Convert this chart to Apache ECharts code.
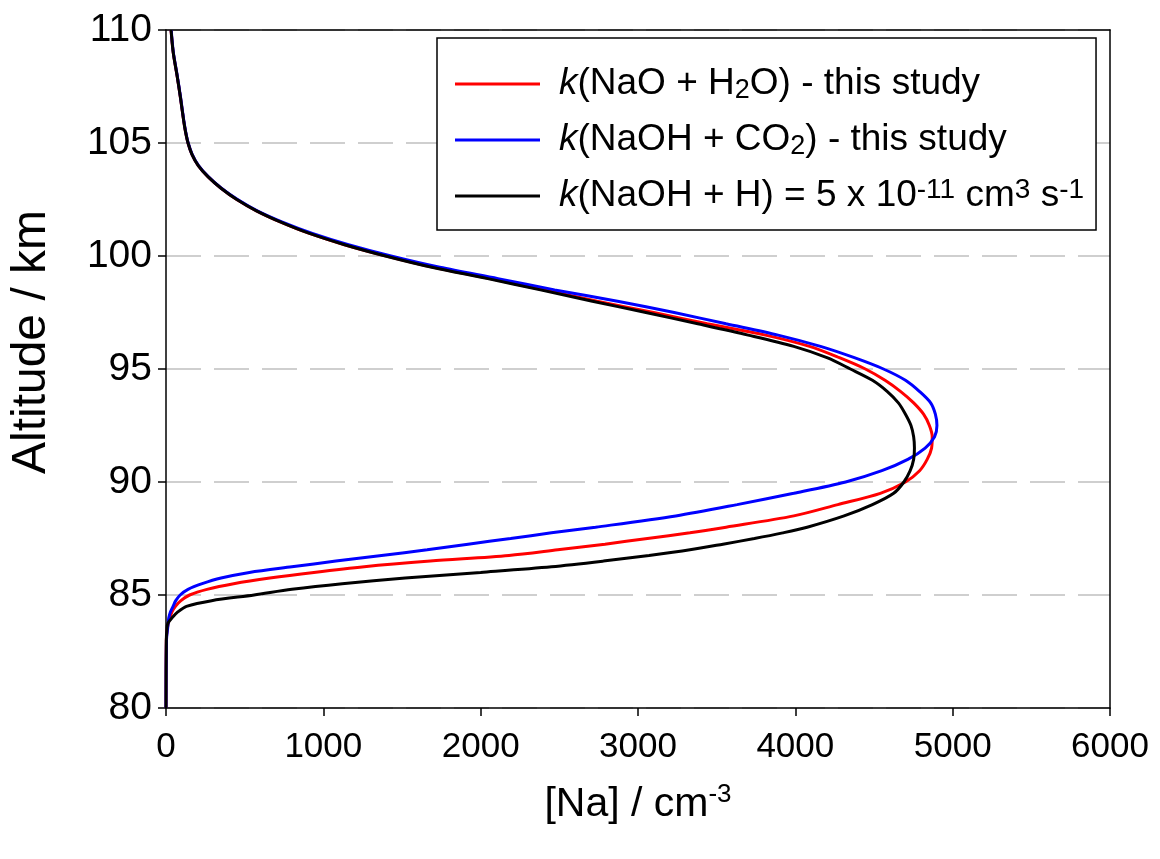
<!DOCTYPE html>
<html>
<head>
<meta charset="utf-8">
<script src="https://cdn.jsdelivr.net/npm/echarts@6/dist/echarts.min.js"></script>
<style>
html,body{margin:0;padding:0;background:#fff;}
#chart{width:1160px;height:859px;}
</style>
</head>
<body>
<div id="chart"></div>
<script>
// Altitude grid (km) shared by all series
const altitudes = [80, 83, 83.5, 83.75, 84, 84.25, 84.5, 84.75, 85, 85.25, 85.5, 85.75, 86, 86.25, 86.5, 86.75, 87, 87.25, 87.5, 87.75, 88, 88.5, 89, 89.5, 90, 90.5, 91, 91.5, 92, 92.5, 93, 93.5, 94, 94.5, 95, 95.5, 96, 96.5, 97, 97.5, 98, 98.5, 99, 99.5, 100, 100.5, 101, 101.5, 102, 102.5, 103, 103.5, 104, 104.5, 105, 105.5, 106, 107, 108, 109, 110];

// [Na] / cm^-3 at each altitude
const naH2O = [0, 2, 8, 15, 25, 38, 60, 95, 150, 260, 430, 660, 940, 1260, 1680, 2180, 2490, 2790, 3060, 3330, 3560, 3990, 4270, 4540, 4700, 4790, 4838, 4866, 4870, 4852, 4815, 4752, 4670, 4570, 4445, 4280, 4090, 3810, 3440, 3100, 2740, 2400, 2060, 1700, 1400, 1135, 912, 730, 575, 450, 350, 268, 205, 165, 140, 124, 112, 92, 70, 46, 32];
const naCO2 = [0, 3, 10, 14, 18, 28, 45, 62, 90, 140, 230, 350, 530, 800, 1080, 1370, 1660, 1920, 2190, 2450, 2730, 3240, 3630, 3990, 4320, 4550, 4715, 4825, 4885, 4900, 4890, 4860, 4790, 4700, 4560, 4375, 4160, 3890, 3560, 3230, 2870, 2470, 2110, 1740, 1430, 1160, 930, 740, 580, 455, 352, 270, 207, 166, 141, 125, 113, 93, 71, 47, 33];
const naH = [0, 2, 6, 12, 40, 75, 130, 290, 560, 800, 1120, 1520, 2000, 2450, 2780, 3070, 3330, 3540, 3740, 3920, 4075, 4310, 4490, 4625, 4690, 4730, 4752, 4757, 4752, 4735, 4700, 4655, 4585, 4490, 4350, 4201, 3990, 3700, 3380, 3050, 2710, 2380, 2045, 1690, 1395, 1135, 912, 730, 575, 450, 350, 268, 205, 165, 140, 124, 112, 92, 70, 46, 32];

const seriesNames = ['k(NaO + H2O) - this study', 'k(NaOH + CO2) - this study', 'k(NaOH + H) = 5 x 10-11 cm3 s-1'];
const seriesValues = [naH2O, naCO2, naH];
const seriesColors = ['#ff0000', '#0000ff', '#000000'];
const legendRich = [
  '{i|k}(NaO + H{sub|2}O) - this study',
  '{i|k}(NaOH + CO{sub|2}) - this study',
  '{i|k}(NaOH + H) = 5 x 10{sup|-11} cm{sup|3} s{sup|-1}'
];
const xTicks = {min: 0, max: 6000, interval: 1000};
const yTicks = {min: 80, max: 110, interval: 5};

const FONT = 'Liberation Sans';
const frameAxis = {
  axisLine: {show: true, onZero: false, lineStyle: {color: '#000', width: 1.5}},
  axisTick: {show: false}, axisLabel: {show: false}, splitLine: {show: false}
};
const chart = echarts.init(document.getElementById('chart'));
chart.setOption({
  animation: false,
  backgroundColor: '#fff',
  grid: {left: 166, right: 50, top: 30, bottom: 151, containLabel: false, outerBoundsMode: 'none'},
  legend: {
    orient: 'vertical',
    left: 437, top: 38,
    data: seriesNames,
    icon: 'rect',
    itemWidth: 85, itemHeight: 3,
    itemGap: 16,
    padding: [26, 12, 14, 18],
    borderColor: '#000', borderWidth: 1.5, backgroundColor: '#fff',
    formatter: function (name) { return legendRich[seriesNames.indexOf(name)]; },
    textStyle: {
      fontFamily: FONT, fontSize: 37, color: '#000', lineHeight: 40, padding: [0, 0, 0, 14],
      rich: {
        i: {fontFamily: FONT, fontSize: 37, fontStyle: 'italic', color: '#000', lineHeight: 40},
        sub: {fontFamily: FONT, fontSize: 27, color: '#000', lineHeight: 8, verticalAlign: 'bottom'},
        sup: {fontFamily: FONT, fontSize: 28, color: '#000', lineHeight: 24, verticalAlign: 'top'}
      }
    }
  },
  xAxis: [{
    type: 'value', position: 'bottom', min: xTicks.min, max: xTicks.max, interval: xTicks.interval,
    name: '[Na] / cm{sup|-3}', nameLocation: 'middle', nameGap: 74,
    nameTextStyle: {fontFamily: FONT, fontSize: 41, color: '#000', lineHeight: 46,
      rich: {sup: {fontFamily: FONT, fontSize: 26, color: '#000', lineHeight: 26, verticalAlign: 'top'}}},
    axisLine: {show: true, onZero: false, lineStyle: {color: '#000', width: 1.5}},
    axisTick: {show: true, inside: false, length: 8, lineStyle: {color: '#000', width: 1.5}},
    axisLabel: {fontFamily: FONT, fontSize: 35, color: '#000', margin: 22, formatter: function (v) { return String(v); }},
    splitLine: {show: false}
  }, Object.assign({type: 'value', position: 'top', min: xTicks.min, max: xTicks.max, interval: xTicks.interval}, frameAxis)],
  yAxis: [{
    type: 'value', position: 'left', min: yTicks.min, max: yTicks.max, interval: yTicks.interval,
    name: 'Altitude / km', nameLocation: 'middle', nameGap: 110,
    nameTextStyle: {fontFamily: FONT, fontSize: 48, color: '#000', padding: [0, 0, 0, 54]},
    axisLine: {show: true, onZero: false, lineStyle: {color: '#000', width: 1.5}},
    axisTick: {show: true, inside: false, length: 8, lineStyle: {color: '#000', width: 1.5}},
    axisLabel: {fontFamily: FONT, fontSize: 39, color: '#000', margin: 14},
    splitLine: {show: true, lineStyle: {color: '#c0c0c0', width: 1.5, type: [35, 13]}}
  }, Object.assign({type: 'value', position: 'right', min: yTicks.min, max: yTicks.max, interval: yTicks.interval}, frameAxis)],
  series: seriesNames.map(function (name, k) {
    return {
      name: name, type: 'line', showSymbol: false, symbol: 'none',
      smooth: 0.3,
      lineStyle: {color: seriesColors[k], width: 3},
      itemStyle: {color: seriesColors[k]},
      data: altitudes.map(function (a, i) { return [seriesValues[k][i], a]; })
    };
  })
});
</script>
</body>
</html>
